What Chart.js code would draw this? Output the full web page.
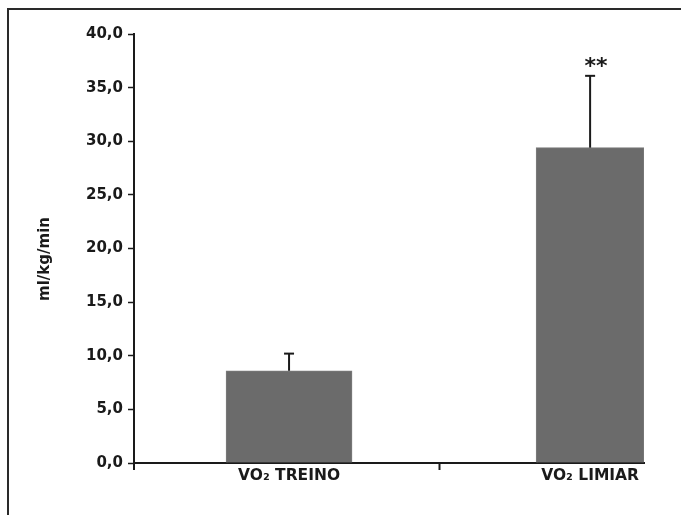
<!DOCTYPE html>
<html>
<head>
<meta charset="utf-8">
<script src="https://cdn.jsdelivr.net/npm/chart.js@4"></script>
<style>
  html, body { margin: 0; padding: 0; background: #fff; }
  #wrap { position: relative; width: 681px; height: 515px; }
  #frame { position: absolute; left: 7px; top: 8px; right: 0; bottom: 0;
           border-left: 2px solid #2a2a2a; border-top: 2px solid #2a2a2a; pointer-events: none; }
  canvas { position: absolute; left: 0; top: 0; }
</style>
</head>
<body>
<div id="wrap">
  <canvas id="c" width="681" height="515"></canvas>
  <div id="frame"></div>
</div>
<script>
// ---- data ----
const categories = ['VO₂ TREINO', 'VO₂ LIMIAR'];
const means = [8.6, 29.4];
const errorsUp = [1.6, 6.7];
const significance = ['', '**'];
const yTickValues = [0, 5, 10, 15, 20, 25, 30, 35, 40];
const yAxisTitle = 'ml/kg/min';

const FONT = 'DejaVu Sans';
const INK = '#1a1a1a';
const barThick = [126, 108];

const datasets = categories.map((c, i) => ({
  label: c,
  data: [{ x: i + 1, y: means[i] }],
  backgroundColor: '#6b6b6b',
  borderColor: '#7d7d7d',
  borderWidth: 1,
  barThickness: barThick[i],
  stack: 'one'
}));

const errorBars = {
  id: 'errorBars',
  afterDatasetsDraw(chart) {
    const ctx = chart.ctx;
    const ys = chart.scales.y;
    ctx.save();
    chart.data.datasets.forEach((ds, i) => {
      const meta = chart.getDatasetMeta(i);
      meta.data.forEach((bar) => {
        const top = ys.getPixelForValue(means[i] + errorsUp[i]);
        ctx.strokeStyle = INK;
        ctx.lineWidth = 2;
        ctx.beginPath();
        ctx.moveTo(bar.x, bar.y);
        ctx.lineTo(bar.x, top);
        ctx.stroke();
        ctx.beginPath();
        ctx.moveTo(bar.x - 5, top);
        ctx.lineTo(bar.x + 5, top);
        ctx.stroke();
        if (significance[i]) {
          ctx.fillStyle = INK;
          ctx.font = 'bold 22px ' + FONT;
          ctx.textAlign = 'center';
          ctx.textBaseline = 'alphabetic';
          ctx.fillText(significance[i], bar.x + 6, top - 3);
        }
      });
    });
    // y axis title
    ctx.save();
    ctx.translate(45, 259);
    ctx.rotate(-Math.PI / 2);
    ctx.font = 'bold 15px ' + FONT;
    ctx.fillStyle = INK;
    ctx.textAlign = 'center';
    ctx.textBaseline = 'middle';
    ctx.fillText(yAxisTitle, 0, 0);
    ctx.restore();
    // y axis line slight extension below zero
    const x0 = chart.chartArea.left;
    const y0 = chart.chartArea.bottom;
    ctx.strokeStyle = INK;
    ctx.lineWidth = 2;
    ctx.beginPath();
    ctx.moveTo(x0, y0);
    ctx.lineTo(x0, y0 + 7);
    ctx.stroke();
    ctx.restore();
  }
};

new Chart(document.getElementById('c'), {
  type: 'bar',
  data: { datasets },
  options: {
    responsive: false,
    animation: false,
    layout: { padding: { top: 34, right: 37, left: 0, bottom: 0 } },
    plugins: { legend: { display: false }, tooltip: { enabled: false } },
    scales: {
      x: {
        type: 'linear',
        stacked: true,
        offset: false,
        min: 0.485,
        max: 2.179,
        afterBuildTicks(scale) {
          const t = [];
          categories.forEach((c, i) => {
            t.push({ value: i + 1 });
            if (i < categories.length - 1) t.push({ value: i + 1.5 });
          });
          scale.ticks = t;
        },
        afterFit(scale) { scale.height = 52; },
        border: { display: true, color: INK, width: 2 },
        grid: {
          offset: false,
          drawOnChartArea: false,
          tickLength: 7,
          tickWidth: 2,
          color: (ctx) => (ctx.tick && Number.isInteger(ctx.tick.value)) ? 'rgba(0,0,0,0)' : INK
        },
        ticks: {
          autoSkip: false,
          maxRotation: 0,
          padding: -3,
          color: INK,
          font: { family: FONT, size: 15.5, weight: 'bold' },
          callback: (v) => Number.isInteger(v) ? categories[v - 1] : ''
        }
      },
      y: {
        stacked: true,
        min: 0,
        max: 40,
        afterBuildTicks(scale) { scale.ticks = yTickValues.map(v => ({ value: v })); },
        afterFit(scale) { scale.width = 134; },
        border: { display: true, color: INK, width: 2 },
        grid: { drawOnChartArea: false, tickLength: 6, tickWidth: 1.5, color: INK },
        ticks: {
          padding: 5,
          color: INK,
          font: { family: FONT, size: 15, weight: 'bold' },
          callback: (v) => v.toFixed(1).replace('.', ',')
        }
      }
    }
  },
  plugins: [errorBars]
});
</script>
</body>
</html>
